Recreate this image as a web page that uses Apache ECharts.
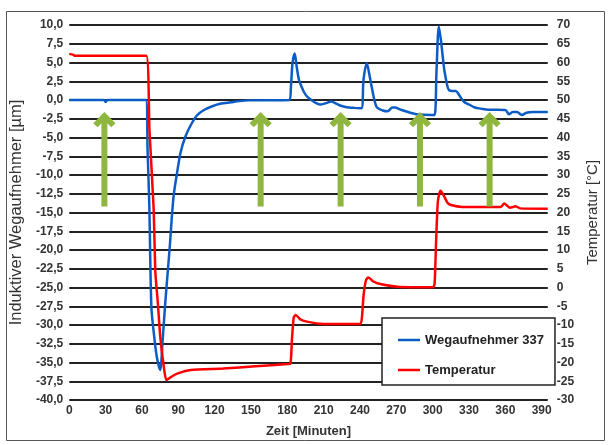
<!DOCTYPE html>
<html>
<head>
<meta charset="utf-8">
<script src="https://cdn.jsdelivr.net/npm/echarts@6/dist/echarts.min.js"></script>
<style>
html, body { margin: 0; padding: 0; background: #fff; }
#chart { width: 608px; height: 445px; }
</style>
</head>
<body>
<div id="chart"></div>
<script>
// Wegaufnehmer 337 (linke Achse, µm) - Zeit in Minuten
var wegZeit = [0, 28.7, 30.1, 31.6, 63.2, 64.7, 66.1, 67.8, 70.1, 72.2, 75, 77.1, 79, 81, 83, 86, 88.9, 91.9, 95.8, 100.8, 105.7, 111.6, 118.6, 124.5, 133.4, 140.3, 148.2, 181.8,
    183, 184.3, 186.1, 187.7, 189.6, 191.7, 193.6, 196.1, 199, 202.5, 207, 211.4, 216.3, 219.3, 223, 227.2, 231, 235.1, 241.1,
    242.9, 245.6, 247.5, 249.6, 253.6, 258.9, 262.8, 266.8, 268.7, 273.7, 281.6, 286.5, 299, 301.6,
    303.2, 305.1, 306.8, 308.3, 309.6, 312.2, 313.6, 316.2, 318.9, 322.1, 325.6, 330, 334.9, 339.9, 345.6, 353.6, 360.2, 363, 366, 369.6, 373.6, 377.4, 382.9, 388.3, 395];
var wegWert = [0, 0, -0.25, 0, 0, -7, -14.2, -27.6, -31.5, -34.2, -36, -32, -27.6, -23.5, -19.5, -13, -9.8, -7, -4.9, -3.2, -2.0, -1.3, -0.8, -0.5, -0.3, -0.15, -0.05, 0,
    1.8, 4.9, 6.2, 4.5, 2.7, 1.8, 1.1, 0.5, 0.1, -0.3, -0.6, -0.45, -0.2, -0.4, -0.7, -0.9, -1.0, -1.05, -1.1,
    2.7, 4.9, 3.6, 1.8, -0.9, -1.4, -1.5, -1.0, -1.0, -1.3, -1.7, -1.9, -2.0, -2.0,
    4, 9.8, 8, 5.8, 4.0, 1.8, 1.3, 1.2, 1.2, 0.6, -0.2, -0.6, -1.0, -1.15, -1.3, -1.3, -1.35, -1.9, -1.6, -1.6, -2.0, -1.7, -1.6, -1.6, -1.6];

// Temperatur (rechte Achse, °C)
var tempZeit = [0, 3, 4.9, 53.4, 63.6, 66.2, 69.6, 71.1, 73.1, 75.1, 77.6, 80.2, 84.3, 89.6, 100.3, 127, 153.6, 180.2, 182.6,
    183.8, 185.3, 186.9, 190.7, 196.2, 209.5, 240.3, 241.6, 243, 245, 247, 251, 257.6, 271, 300.3,
    301.6, 302.8, 304.3, 306.4, 309.2, 312.2, 315, 324.3, 356.3, 359, 361.6, 363.6, 365.6, 368.2, 372.3, 395];
var tempWert = [62.3, 62.1, 61.8, 61.8, 61.8, 42, 21.5, 4, -4, -13, -20, -24.7, -23.8, -22.9, -22, -21.6, -21, -20.4, -20.3,
    -14, -8, -7.3, -8.5, -9.1, -9.7, -9.7, -8, -2, 2, 2.7, 1.6, 0.85, 0.2, 0.05,
    1, 12, 23, 25.8, 24.5, 22.6, 22, 21.5, 21.5, 22.4, 21.8, 21.3, 21.4, 21.7, 21.1, 21.0];

// grüne Pfeile
var pfeilZeit = [29, 158, 224, 289.5, 347];
var pfeilVon = -14.2;
var pfeilBis = -1.5;

var schrift = 'Liberation Sans, Arial, sans-serif';

function paare(xs, ys) {
    var out = [];
    for (var i = 0; i < xs.length; i++) {
        out.push([xs[i], ys[i]]);
    }
    return out;
}

var myChart = echarts.init(document.getElementById('chart'));

var option = {
    animation: false,
    backgroundColor: '#fff',
    grid: { left: 68, right: 47, top: 25, bottom: 45 },
    graphic: [{
        type: 'rect',
        shape: { x: 6.5, y: 11.5, width: 598, height: 429 },
        style: { fill: 'none', stroke: '#555', lineWidth: 1 },
        silent: true
    }],
    legend: {
        data: ['Wegaufnehmer 337', 'Temperatur'],
        orient: 'vertical',
        left: 382,
        top: 318,
        padding: [15, 11, 8, 16],
        itemGap: 16,
        itemWidth: 22,
        itemHeight: 2.5,
        icon: 'rect',
        backgroundColor: '#fff',
        borderColor: '#222',
        borderWidth: 1.5,
        borderRadius: 0,
        textStyle: { fontFamily: schrift, fontWeight: 'bold', fontSize: 13, lineHeight: 14, color: '#222' }
    },
    xAxis: {
        type: 'value',
        min: 0,
        max: 395,
        interval: 30,
        name: 'Zeit [Minuten]',
        nameLocation: 'middle',
        nameGap: 25,
        nameTextStyle: { fontFamily: schrift, fontWeight: 'bold', fontSize: 13, color: '#333' },
        axisLine: { show: false },
        axisTick: { show: false },
        splitLine: { show: false },
        axisLabel: { showMaxLabel: false, margin: 5, fontFamily: schrift, fontWeight: 'bold', fontSize: 12, color: '#333' }
    },
    yAxis: [{
        type: 'value',
        min: -40,
        max: 10,
        interval: 2.5,
        name: 'Induktiver Wegaufnehmer [µm]',
        nameLocation: 'middle',
        nameGap: 28,
        nameTextStyle: { fontFamily: schrift, fontSize: 16.5, color: '#333' },
        axisLine: { show: false },
        axisTick: { show: false },
        splitLine: { show: true, lineStyle: { color: '#222', width: 2 } },
        axisLabel: {
            margin: 6,
            fontFamily: schrift, fontWeight: 'bold', fontSize: 12, color: '#333',
            formatter: function (v) { return v.toFixed(1).replace('.', ','); }
        }
    }, {
        type: 'value',
        min: -30,
        max: 70,
        interval: 5,
        position: 'right',
        name: 'Temperatur [°C]',
        nameLocation: 'middle',
        nameGap: 27,
        nameTextStyle: { fontFamily: schrift, fontSize: 15, color: '#333' },
        axisLine: { show: false },
        axisTick: { show: false },
        splitLine: { show: false },
        axisLabel: { margin: 9, fontFamily: schrift, fontWeight: 'bold', fontSize: 12, color: '#333' }
    }],
    series: [{
        name: 'Wegaufnehmer 337',
        type: 'line',
        yAxisIndex: 0,
        data: paare(wegZeit, wegWert),
        symbol: 'none',
        smooth: 0.3,
        lineStyle: { color: '#0b5cc4', width: 2.5 },
        itemStyle: { color: '#0b5cc4' },
        z: 3
    }, {
        name: 'Temperatur',
        type: 'line',
        yAxisIndex: 1,
        data: paare(tempZeit, tempWert),
        symbol: 'none',
        smooth: 0.2,
        lineStyle: { color: '#ff0000', width: 2.5 },
        itemStyle: { color: '#ff0000' },
        z: 4
    }, {
        name: 'Pfeile',
        type: 'custom',
        yAxisIndex: 0,
        data: pfeilZeit.map(function (t) { return [t, pfeilVon, pfeilBis]; }),
        z: 5,
        silent: true,
        renderItem: function (params, api) {
            var unten = api.coord([api.value(0), api.value(1)]);
            var oben = api.coord([api.value(0), api.value(2)]);
            var x = unten[0];
            var stil = { stroke: '#8fb63e', lineWidth: 6, fill: null, lineJoin: 'miter', lineCap: 'butt' };
            return {
                type: 'group',
                children: [{
                    type: 'line',
                    shape: { x1: x, y1: unten[1], x2: x, y2: oben[1] + 6 },
                    style: stil
                }, {
                    type: 'polyline',
                    shape: { points: [[x - 9, oben[1] + 14], [x, oben[1] + 5], [x + 9, oben[1] + 14]] },
                    style: stil
                }]
            };
        }
    }]
};

myChart.setOption(option);
window.addEventListener('resize', function () {
    myChart.resize();
});
</script>
</body>
</html>
